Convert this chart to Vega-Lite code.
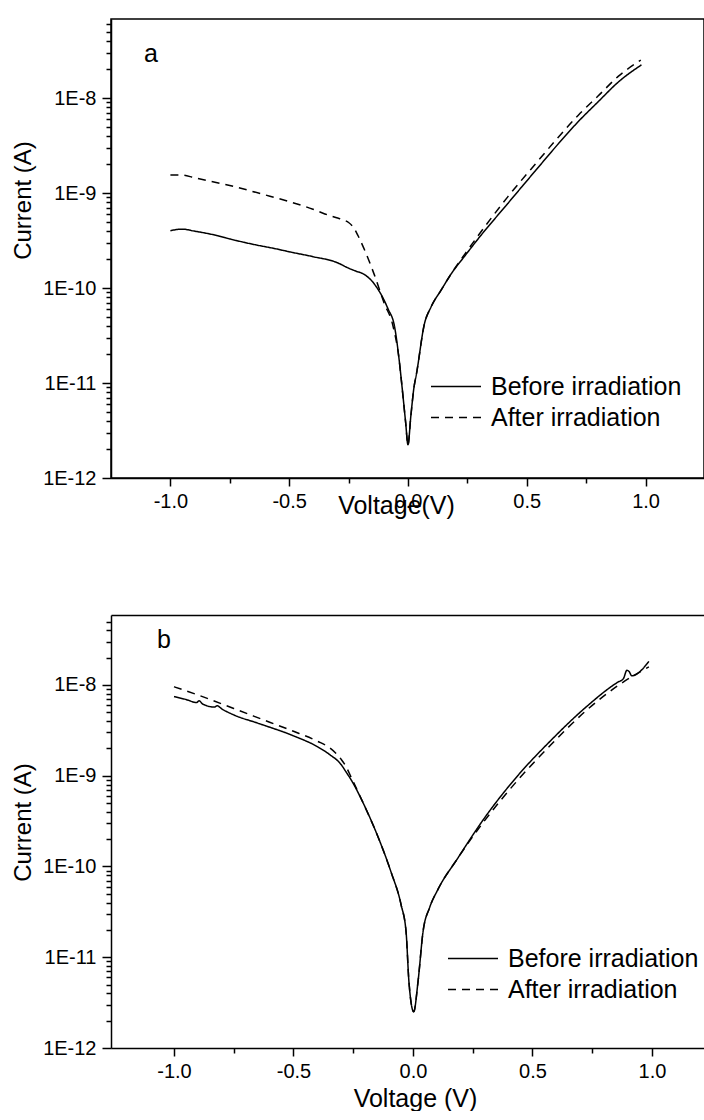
{
  "$schema": "https://vega.github.io/schema/vega-lite/v6.json",
  "background": "white",
  "autosize": {"type": "pad"},
  "padding": {"left": 10, "top": 13, "right": 0, "bottom": 0},
  "config": {
    "font": "Liberation Sans",
    "view": {"stroke": "black", "strokeWidth": 1.5},
    "axis": {
      "domainColor": "black", "domainWidth": 1.5, "tickColor": "black", "tickWidth": 1.5,
      "labelColor": "black", "titleColor": "black", "labelFontSize": 20, "titleFontWeight": "normal",
      "grid": false, "labelFont": "Liberation Sans", "titleFont": "Liberation Sans",
      "labelOverlap": false, "labelFlush": false, "labelBound": false
    },
    "legend": {
      "labelFontSize": 25, "labelColor": "black", "labelFont": "Liberation Sans", "labelLimit": 400,
      "symbolType": "M-2.5,0H7.5", "symbolSize": 100, "symbolStrokeColor": "black",
      "symbolStrokeWidth": 1.5, "labelOffset": 35, "rowPadding": 5, "padding": 0
    }
  },
  "datasets": {
    "a": [
      {"series": "Before irradiation", "V": -1.0, "I": 4.02e-10},
      {"series": "Before irradiation", "V": -0.95, "I": 4.17e-10},
      {"series": "Before irradiation", "V": -0.9, "I": 3.98e-10},
      {"series": "Before irradiation", "V": -0.8, "I": 3.55e-10},
      {"series": "Before irradiation", "V": -0.75, "I": 3.29e-10},
      {"series": "Before irradiation", "V": -0.65, "I": 2.88e-10},
      {"series": "Before irradiation", "V": -0.55, "I": 2.57e-10},
      {"series": "Before irradiation", "V": -0.5, "I": 2.41e-10},
      {"series": "Before irradiation", "V": -0.4, "I": 2.14e-10},
      {"series": "Before irradiation", "V": -0.3, "I": 1.86e-10},
      {"series": "Before irradiation", "V": -0.25, "I": 1.62e-10},
      {"series": "Before irradiation", "V": -0.22, "I": 1.51e-10},
      {"series": "Before irradiation", "V": -0.186, "I": 1.40e-10},
      {"series": "Before irradiation", "V": -0.15, "I": 1.17e-10},
      {"series": "Before irradiation", "V": -0.127, "I": 9.77e-11},
      {"series": "Before irradiation", "V": -0.1, "I": 7.41e-11},
      {"series": "Before irradiation", "V": -0.084, "I": 6.03e-11},
      {"series": "Before irradiation", "V": -0.057, "I": 3.98e-11},
      {"series": "Before irradiation", "V": -0.037, "I": 1.74e-11},
      {"series": "Before irradiation", "V": -0.027, "I": 1.02e-11},
      {"series": "Before irradiation", "V": -0.01, "I": 3.89e-12},
      {"series": "Before irradiation", "V": 0.0, "I": 2.24e-12},
      {"series": "Before irradiation", "V": 0.012, "I": 4.47e-12},
      {"series": "Before irradiation", "V": 0.025, "I": 8.9e-12},
      {"series": "Before irradiation", "V": 0.036, "I": 1.26e-11},
      {"series": "Before irradiation", "V": 0.069, "I": 4.17e-11},
      {"series": "Before irradiation", "V": 0.097, "I": 6.31e-11},
      {"series": "Before irradiation", "V": 0.14, "I": 9.55e-11},
      {"series": "Before irradiation", "V": 0.181, "I": 1.40e-10},
      {"series": "Before irradiation", "V": 0.24, "I": 2.19e-10},
      {"series": "Before irradiation", "V": 0.295, "I": 3.29e-10},
      {"series": "Before irradiation", "V": 0.42, "I": 7.76e-10},
      {"series": "Before irradiation", "V": 0.548, "I": 1.86e-9},
      {"series": "Before irradiation", "V": 0.63, "I": 3.24e-9},
      {"series": "Before irradiation", "V": 0.717, "I": 5.66e-9},
      {"series": "Before irradiation", "V": 0.8, "I": 9.12e-9},
      {"series": "Before irradiation", "V": 0.886, "I": 1.48e-8},
      {"series": "Before irradiation", "V": 0.983, "I": 2.24e-8},
      {"series": "After irradiation", "V": -1.0, "I": 1.55e-9},
      {"series": "After irradiation", "V": -0.95, "I": 1.55e-9},
      {"series": "After irradiation", "V": -0.9, "I": 1.45e-9},
      {"series": "After irradiation", "V": -0.75, "I": 1.20e-9},
      {"series": "After irradiation", "V": -0.6, "I": 9.55e-10},
      {"series": "After irradiation", "V": -0.5, "I": 8.13e-10},
      {"series": "After irradiation", "V": -0.4, "I": 6.76e-10},
      {"series": "After irradiation", "V": -0.35, "I": 6.03e-10},
      {"series": "After irradiation", "V": -0.3, "I": 5.50e-10},
      {"series": "After irradiation", "V": -0.27, "I": 5.20e-10},
      {"series": "After irradiation", "V": -0.25, "I": 4.90e-10},
      {"series": "After irradiation", "V": -0.23, "I": 4.37e-10},
      {"series": "After irradiation", "V": -0.21, "I": 3.55e-10},
      {"series": "After irradiation", "V": -0.186, "I": 2.63e-10},
      {"series": "After irradiation", "V": -0.143, "I": 1.41e-10},
      {"series": "After irradiation", "V": -0.1, "I": 6.92e-11},
      {"series": "After irradiation", "V": -0.063, "I": 3.98e-11},
      {"series": "After irradiation", "V": -0.037, "I": 1.74e-11},
      {"series": "After irradiation", "V": -0.027, "I": 1.02e-11},
      {"series": "After irradiation", "V": -0.01, "I": 3.89e-12},
      {"series": "After irradiation", "V": 0.0, "I": 2.24e-12},
      {"series": "After irradiation", "V": 0.012, "I": 4.47e-12},
      {"series": "After irradiation", "V": 0.025, "I": 8.9e-12},
      {"series": "After irradiation", "V": 0.036, "I": 1.26e-11},
      {"series": "After irradiation", "V": 0.069, "I": 4.17e-11},
      {"series": "After irradiation", "V": 0.097, "I": 6.31e-11},
      {"series": "After irradiation", "V": 0.14, "I": 9.55e-11},
      {"series": "After irradiation", "V": 0.181, "I": 1.40e-10},
      {"series": "After irradiation", "V": 0.24, "I": 2.29e-10},
      {"series": "After irradiation", "V": 0.295, "I": 3.55e-10},
      {"series": "After irradiation", "V": 0.42, "I": 9.12e-10},
      {"series": "After irradiation", "V": 0.548, "I": 2.19e-9},
      {"series": "After irradiation", "V": 0.63, "I": 3.80e-9},
      {"series": "After irradiation", "V": 0.717, "I": 6.61e-9},
      {"series": "After irradiation", "V": 0.8, "I": 1.05e-8},
      {"series": "After irradiation", "V": 0.886, "I": 1.70e-8},
      {"series": "After irradiation", "V": 0.98, "I": 2.51e-8}
    ],
    "b": [
      {"series": "Before irradiation", "V": -1.0, "I": 7.45e-9},
      {"series": "Before irradiation", "V": -0.95, "I": 6.92e-9},
      {"series": "Before irradiation", "V": -0.905, "I": 6.41e-9},
      {"series": "Before irradiation", "V": -0.895, "I": 6.70e-9},
      {"series": "Before irradiation", "V": -0.88, "I": 6.17e-9},
      {"series": "Before irradiation", "V": -0.83, "I": 5.70e-9},
      {"series": "Before irradiation", "V": -0.82, "I": 5.90e-9},
      {"series": "Before irradiation", "V": -0.8, "I": 5.45e-9},
      {"series": "Before irradiation", "V": -0.75, "I": 4.68e-9},
      {"series": "Before irradiation", "V": -0.65, "I": 3.80e-9},
      {"series": "Before irradiation", "V": -0.5, "I": 2.75e-9},
      {"series": "Before irradiation", "V": -0.4, "I": 2.09e-9},
      {"series": "Before irradiation", "V": -0.35, "I": 1.72e-9},
      {"series": "Before irradiation", "V": -0.3, "I": 1.32e-9},
      {"series": "Before irradiation", "V": -0.28, "I": 1.10e-9},
      {"series": "Before irradiation", "V": -0.26, "I": 9.12e-10},
      {"series": "Before irradiation", "V": -0.205, "I": 4.79e-10},
      {"series": "Before irradiation", "V": -0.147, "I": 2.14e-10},
      {"series": "Before irradiation", "V": -0.092, "I": 8.71e-11},
      {"series": "Before irradiation", "V": -0.05, "I": 3.80e-11},
      {"series": "Before irradiation", "V": -0.029, "I": 1.91e-11},
      {"series": "Before irradiation", "V": -0.017, "I": 5.37e-12},
      {"series": "Before irradiation", "V": 0.003, "I": 2.51e-12},
      {"series": "Before irradiation", "V": 0.021, "I": 5.37e-12},
      {"series": "Before irradiation", "V": 0.042, "I": 1.91e-11},
      {"series": "Before irradiation", "V": 0.07, "I": 3.55e-11},
      {"series": "Before irradiation", "V": 0.103, "I": 5.50e-11},
      {"series": "Before irradiation", "V": 0.187, "I": 1.23e-10},
      {"series": "Before irradiation", "V": 0.298, "I": 3.39e-10},
      {"series": "Before irradiation", "V": 0.438, "I": 1.0e-9},
      {"series": "Before irradiation", "V": 0.577, "I": 2.45e-9},
      {"series": "Before irradiation", "V": 0.717, "I": 5.50e-9},
      {"series": "Before irradiation", "V": 0.856, "I": 1.07e-8},
      {"series": "Before irradiation", "V": 0.88, "I": 1.17e-8},
      {"series": "Before irradiation", "V": 0.895, "I": 1.45e-8},
      {"series": "Before irradiation", "V": 0.905, "I": 1.40e-8},
      {"series": "Before irradiation", "V": 0.915, "I": 1.26e-8},
      {"series": "Before irradiation", "V": 0.987, "I": 1.82e-8},
      {"series": "After irradiation", "V": -1.0, "I": 9.55e-9},
      {"series": "After irradiation", "V": -0.9, "I": 7.76e-9},
      {"series": "After irradiation", "V": -0.75, "I": 5.50e-9},
      {"series": "After irradiation", "V": -0.6, "I": 3.89e-9},
      {"series": "After irradiation", "V": -0.5, "I": 3.09e-9},
      {"series": "After irradiation", "V": -0.4, "I": 2.40e-9},
      {"series": "After irradiation", "V": -0.35, "I": 2.04e-9},
      {"series": "After irradiation", "V": -0.3, "I": 1.51e-9},
      {"series": "After irradiation", "V": -0.28, "I": 1.26e-9},
      {"series": "After irradiation", "V": -0.26, "I": 9.77e-10},
      {"series": "After irradiation", "V": -0.205, "I": 4.79e-10},
      {"series": "After irradiation", "V": -0.147, "I": 2.14e-10},
      {"series": "After irradiation", "V": -0.092, "I": 8.71e-11},
      {"series": "After irradiation", "V": -0.05, "I": 3.80e-11},
      {"series": "After irradiation", "V": -0.029, "I": 1.91e-11},
      {"series": "After irradiation", "V": -0.017, "I": 5.37e-12},
      {"series": "After irradiation", "V": 0.003, "I": 2.51e-12},
      {"series": "After irradiation", "V": 0.021, "I": 5.37e-12},
      {"series": "After irradiation", "V": 0.042, "I": 1.91e-11},
      {"series": "After irradiation", "V": 0.07, "I": 3.55e-11},
      {"series": "After irradiation", "V": 0.103, "I": 5.50e-11},
      {"series": "After irradiation", "V": 0.187, "I": 1.23e-10},
      {"series": "After irradiation", "V": 0.298, "I": 3.16e-10},
      {"series": "After irradiation", "V": 0.438, "I": 8.91e-10},
      {"series": "After irradiation", "V": 0.577, "I": 2.19e-9},
      {"series": "After irradiation", "V": 0.717, "I": 5.01e-9},
      {"series": "After irradiation", "V": 0.856, "I": 9.77e-9},
      {"series": "After irradiation", "V": 0.987, "I": 1.58e-8}
    ]
  },
  "bounds": "flush",
  "spacing": 137,
  "resolve": {
    "scale": {"x": "independent", "y": "independent", "strokeDash": "independent"},
    "legend": {"strokeDash": "independent"}
  },
  "vconcat": [
    {
      "width": 593,
      "height": 459,
      "layer": [
        {
          "data": {"name": "a"},
          "mark": {"type": "line", "color": "black", "strokeWidth": 1.5, "interpolate": "monotone"},
          "encoding": {
            "x": {
              "field": "V", "type": "quantitative",
              "scale": {"domain": [-1.25, 1.246], "nice": false, "zero": false},
              "axis": {
                "values": [-1, -0.75, -0.5, -0.25, 0, 0.25, 0.5, 0.75, 1],
                "labelExpr": "abs(datum.value*2 - round(datum.value*2)) < 0.001 ? (datum.value < 0 ? '-' : '') + format(abs(datum.value), '.1f') : ''",
                "tickSize": {"condition": {"test": "abs(datum.value*2 - round(datum.value*2)) < 0.001", "value": 8}, "value": 5},
                "labelPadding": 5,
                "title": "Voltage(V)", "titleFontSize": 25, "titleY": 15, "titleX": 285, "titleBaseline": "top"
              }
            },
            "y": {
              "field": "I", "type": "quantitative",
              "scale": {"type": "log", "domain": [1e-12, 6.8e-8], "nice": false},
              "axis": {
                "values": [1e-12, 2e-12, 3e-12, 4e-12, 5e-12, 6e-12, 7e-12, 8e-12, 9e-12, 1e-11, 2e-11, 3e-11, 4e-11, 5e-11, 6e-11, 7e-11, 8e-11, 9e-11, 1e-10, 2e-10, 3e-10, 4e-10, 5e-10, 6e-10, 7e-10, 8e-10, 9e-10, 1e-9, 2e-9, 3e-9, 4e-9, 5e-9, 6e-9, 7e-9, 8e-9, 9e-9, 1e-8, 2e-8, 3e-8, 4e-8, 5e-8, 6e-8],
                "labelExpr": "abs(log(datum.value)/LN10 - round(log(datum.value)/LN10)) < 0.001 ? '1E' + round(log(datum.value)/LN10) : ''",
                "tickSize": {"condition": {"test": "abs(log(datum.value)/LN10 - round(log(datum.value)/LN10)) < 0.001", "value": 9}, "value": 5},
                "labelPadding": 6,
                "title": "Current (A)", "titleFontSize": 24, "titleY": 181, "titlePadding": 7
              }
            },
            "strokeDash": {
              "field": "series", "type": "nominal",
              "scale": {"domain": ["Before irradiation", "After irradiation"], "range": [[1, 0], [8, 6]]},
              "legend": {"title": null, "orient": "none", "legendX": 320, "legendY": 355}
            }
          }
        },
        {
          "data": {"values": [{"label": "a"}]},
          "mark": {"type": "text", "fontSize": 25, "color": "black"},
          "encoding": {
            "x": {"datum": -1.082, "type": "quantitative"},
            "y": {"datum": 2.9e-8, "type": "quantitative"},
            "text": {"field": "label"}
          }
        }
      ]
    },
    {
      "width": 594,
      "height": 433,
      "view": {"stroke": null},
      "resolve": {"axis": {"x": "independent"}},
      "layer": [
        {
          "data": {"name": "b"},
          "mark": {"type": "line", "color": "black", "strokeWidth": 1.5, "interpolate": "monotone"},
          "encoding": {
            "x": {
              "field": "V", "type": "quantitative",
              "scale": {"domain": [-1.2636, 1.2218], "nice": false, "zero": false},
              "axis": {
                "values": [-1, -0.75, -0.5, -0.25, 0, 0.25, 0.5, 0.75, 1],
                "labelExpr": "abs(datum.value*2 - round(datum.value*2)) < 0.001 ? (datum.value < 0 ? '-' : '') + format(abs(datum.value), '.1f') : ''",
                "tickSize": {"condition": {"test": "abs(datum.value*2 - round(datum.value*2)) < 0.001", "value": 8}, "value": 5},
                "labelPadding": 5,
                "title": "Voltage (V)", "titleFontSize": 25, "titleY": 38, "titleX": 304, "titleBaseline": "top"
              }
            },
            "y": {
              "field": "I", "type": "quantitative",
              "scale": {"type": "log", "domain": [1e-12, 5.9e-8], "nice": false},
              "axis": {
                "values": [1e-12, 2e-12, 3e-12, 4e-12, 5e-12, 6e-12, 7e-12, 8e-12, 9e-12, 1e-11, 2e-11, 3e-11, 4e-11, 5e-11, 6e-11, 7e-11, 8e-11, 9e-11, 1e-10, 2e-10, 3e-10, 4e-10, 5e-10, 6e-10, 7e-10, 8e-10, 9e-10, 1e-9, 2e-9, 3e-9, 4e-9, 5e-9, 6e-9, 7e-9, 8e-9, 9e-9, 1e-8, 2e-8, 3e-8, 4e-8, 5e-8],
                "labelExpr": "abs(log(datum.value)/LN10 - round(log(datum.value)/LN10)) < 0.001 ? '1E' + round(log(datum.value)/LN10) : ''",
                "tickSize": {"condition": {"test": "abs(log(datum.value)/LN10 - round(log(datum.value)/LN10)) < 0.001", "value": 9}, "value": 5},
                "labelPadding": 6,
                "title": "Current (A)", "titleFontSize": 24, "titleY": 207, "titlePadding": 7
              }
            },
            "strokeDash": {
              "field": "series", "type": "nominal",
              "scale": {"domain": ["Before irradiation", "After irradiation"], "range": [[1, 0], [8, 6]]},
              "legend": {"title": null, "orient": "none", "legendX": 337, "legendY": 331}
            }
          }
        },
        {
          "data": {"values": [{"label": "b"}]},
          "mark": {"type": "text", "fontSize": 25, "color": "black"},
          "encoding": {
            "x": {"datum": -1.042, "type": "quantitative", "axis": {"orient": "top", "labels": false, "ticks": false, "title": null, "domain": true}},
            "y": {"datum": 3.16e-8, "type": "quantitative"},
            "text": {"field": "label"}
          }
        }
      ]
    }
  ]
}
